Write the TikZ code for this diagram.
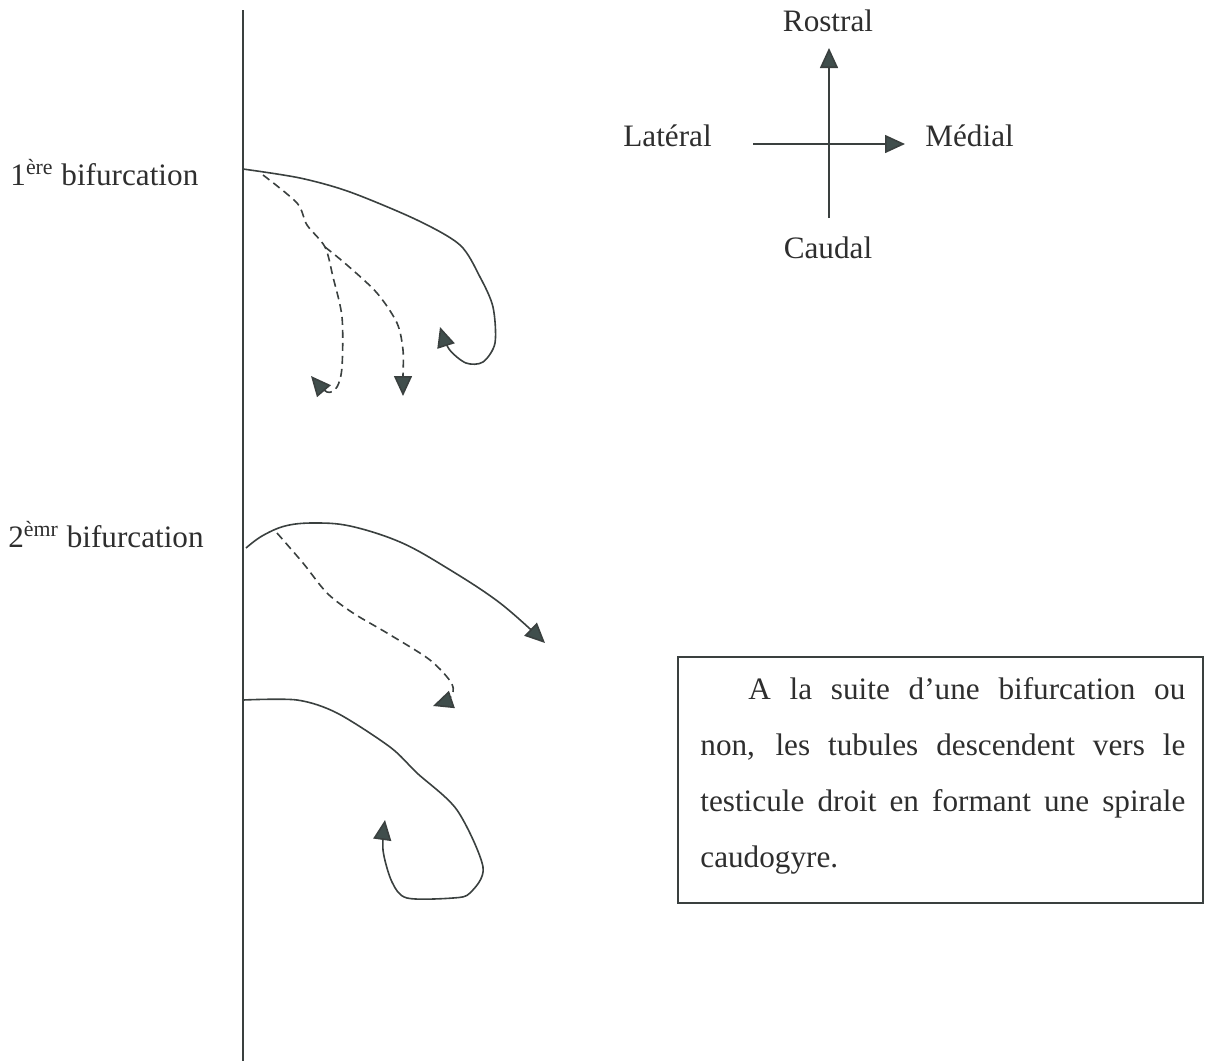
\documentclass[tikz,border=0pt]{standalone}
\usepackage{fontspec}
\setmainfont{Liberation Serif}
\usetikzlibrary{arrows.meta}
\definecolor{ink}{RGB}{58,64,63}
\definecolor{head}{RGB}{64,78,76}
\begin{document}
\begin{tikzpicture}[x=0.5pt,y=-0.5pt,
        txt/.style={text=black!82,font=\fontsize{15.6}{28}\selectfont,inner sep=0pt},
        tube/.style={draw=ink,line width=0.8pt,-{Triangle[length=10pt,width=9pt,fill=head]}},
        branch/.style={tube,dash pattern=on 4pt off 2.5pt}]
        \useasboundingbox (0,0) rectangle (1205,1061);

        % axe
        \coordinate (top) at (243,10);
        \coordinate (bot) at (243,1061);
        \coordinate (b1) at (243,169);
        \coordinate (b2) at (246,548);
        \coordinate (b3) at (243,700);
        \draw[ink,line width=0.8pt] (top) -- (bot);

        \node[txt,anchor=base west] (bif1) at (10,185) {1\textsuperscript{ère} bifurcation};
        \node[txt,anchor=base west] (bif2) at (8,547) {2\textsuperscript{èmr} bifurcation};

        % premiere bifurcation
        \draw[tube] plot[smooth,tension=0.5] coordinates {(b1) (300,178) (350,192) (417,220) (460,245) (480,277) (493,307) (495,343) (483,362) (466,363) (449,349) (440,327)};
        \coordinate (d1) at (263,175);
        \coordinate (d2) at (325,247);
        \draw[branch] plot[smooth,tension=0.5] coordinates {(d1) (297,203) (307,225) (d2) (333,277) (342,317) (342,367) (337,387) (327,392) (311,376)};
        \draw[branch] plot[smooth,tension=0.5] coordinates {(d2) (347,265) (377,293) (397,323) (403,350) (403,377) (403,396)};

        % deuxieme bifurcation
        \draw[tube] plot[smooth,tension=0.6] coordinates {(b2) (262,536) (285,526) (313,523) (350,526) (400,542) (447,568) (500,603) (545,643)};
        \coordinate (d3) at (277,533);
        \draw[branch] plot[smooth,tension=0.5] coordinates {(d3) (303,563) (327,593) (353,613) (387,633) (430,660) (452,684) (450,698) (433,706)};

        % tubule sans bifurcation
        \draw[tube] plot[smooth,tension=0.5] coordinates {(b3) (297,700) (337,713) (390,747) (417,773) (457,810) (483,867) (470,893) (453,898) (407,898) (392,882) (383,850) (385,820)};

        % orientation
        \coordinate (O) at (829,144);
        \coordinate (cTop) at (829,48);
        \coordinate (cBot) at (829,218);
        \coordinate (cLeft) at (753,144);
        \coordinate (cRight) at (905,144);
        \draw[tube] (cBot) -- (cTop);
        \draw[tube] (cLeft) -- (cRight);
        \node[txt,anchor=base] (rostral) at (828,31) {Rostral};
        \node[txt,anchor=base] (caudal) at (828,258) {Caudal};
        \node[txt,anchor=base west] (lateral) at (623,146) {Latéral};
        \node[txt,anchor=base west] (medial) at (925,146) {Médial};

        % encadre
        \draw[ink,line width=0.8pt] (678,657) rectangle (1203,903);
        \node[txt,anchor=base west,text width=242.5pt,align=justify] (note) at (700,699)
            {\hyphenpenalty=10000\hspace*{24pt}A la suite d’une bifurcation ou\linebreak
             non, les tubules descendent vers le\linebreak
             testicule droit en formant une spirale\linebreak
             caudogyre.};
\end{tikzpicture}
\end{document}
